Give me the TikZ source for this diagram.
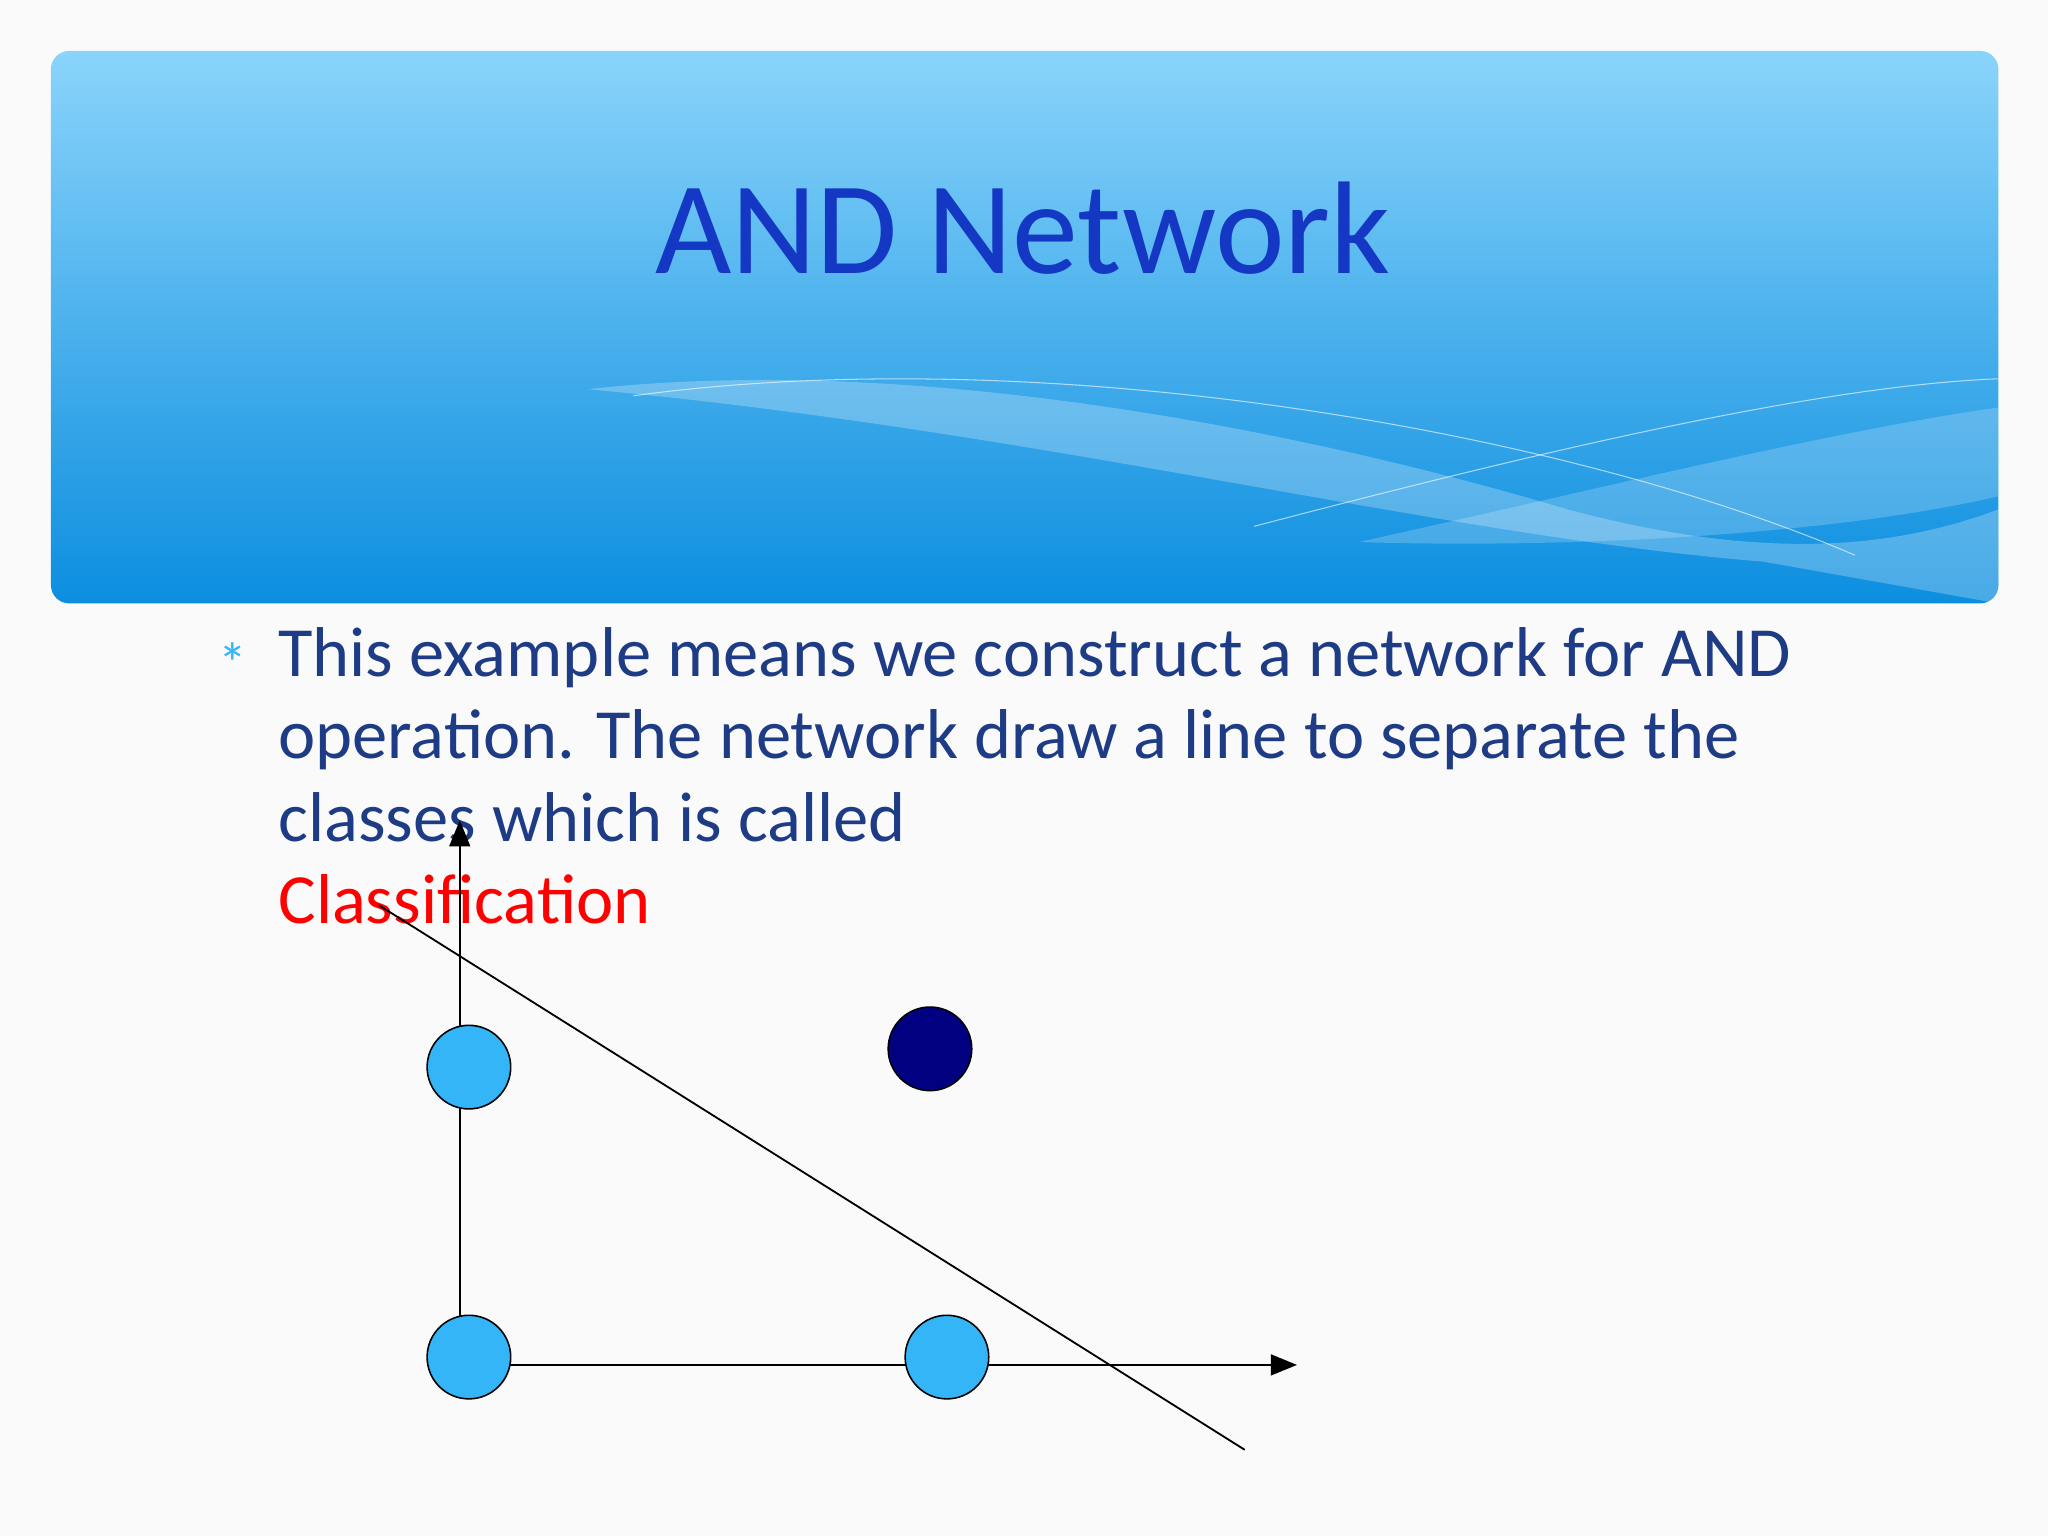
\documentclass[tikz,border=0pt]{standalone}
\usepackage{fontspec}
\setmainfont{Carlito}
\usetikzlibrary{arrows.meta}
\definecolor{hdtop}{HTML}{8AD4FB}
\definecolor{hdbot}{HTML}{0C8EDF}
\definecolor{ttl}{HTML}{1538C4}
\definecolor{bodyc}{HTML}{1E3C86}
\definecolor{ptc}{HTML}{33B5F7}
\definecolor{navy}{HTML}{000080}
\tikzset{pt/.style={circle,draw=black,line width=1.2pt,minimum size=64pt,inner sep=0pt},
 ax/.style={line width=1.4pt,-{Triangle[length=20pt,width=16pt]}},
 bline/.style={anchor=base west,text=bodyc,font=\fontsize{54}{63}\selectfont,inner sep=0pt}}
\begin{document}
\begin{tikzpicture}[x=1pt,y=-1pt]
\fill[white!98!black] (0,0) rectangle (1568,1176);
\useasboundingbox (0,0) rectangle (1568,1176);
\shade[top color=hdtop,bottom color=hdbot,rounded corners=14pt] (39,39) rectangle (1530,462);
\begin{scope}
\clip[rounded corners=14pt] (39,39) rectangle (1530,462);
\fill[white,opacity=0.25] (450,298) .. controls (700,270) and (1000,330) .. (1200,390) .. controls (1350,430) and (1450,420) .. (1530,390) -- (1530,462) -- (1350,430) .. controls (1100,410) and (800,330) .. (450,298) -- cycle;
\fill[white,opacity=0.2] (1040,415) .. controls (1200,380) and (1400,330) .. (1530,312) -- (1530,380) .. controls (1400,410) and (1200,420) .. (1040,415) -- cycle;
\draw[white,opacity=0.6,line width=0.8pt] (485,303) .. controls (800,260) and (1200,330) .. (1420,425);
\draw[white,opacity=0.6,line width=0.8pt] (960,403) .. controls (1200,340) and (1400,295) .. (1530,290);
\end{scope}
\node[text=ttl,font=\fontsize{101}{110}\selectfont] (title) at (783,175) {AND Network};
\node[text=ptc,font=\fontsize{44}{44}\selectfont] (bul) at (178,508) {*};
\node[bline] (t1) at (213,518) {This example means we construct a network for AND};
\node[bline] (t2) at (213,581) {operation. The network draw a line to separate the};
\node[bline] (t3) at (213,644) {classes which is called};
\node[bline,text=red] (t4) at (213,707) {Classification};
\coordinate (o) at (352,1045);
\coordinate (yt) at (352,628);
\coordinate (xt) at (993,1045);
\draw[ax] (o) -- (yt);
\draw[ax] (o) -- (xt);
\coordinate (l1) at (290,693);
\coordinate (l2) at (953,1110);
\draw[line width=1.4pt] (l1) -- (l2);
\node[pt,fill=ptc] (p01) at (359,817) {};
\node[pt,fill=ptc] (p00) at (359,1039) {};
\node[pt,fill=ptc] (p10) at (725,1039) {};
\node[pt,fill=navy] (p11) at (712,803) {};
\end{tikzpicture}
\end{document}
